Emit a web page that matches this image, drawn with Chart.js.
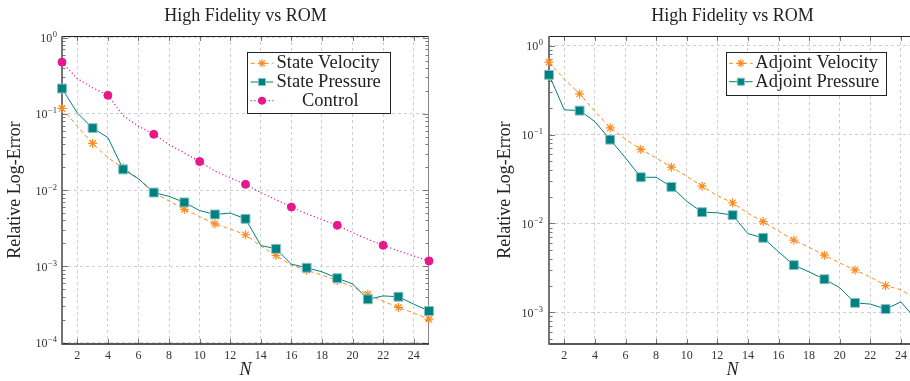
<!DOCTYPE html>
<html>
<head>
<meta charset="utf-8">
<script src="https://cdn.jsdelivr.net/npm/chart.js@4/dist/chart.umd.min.js"></script>
<style>
  html, body { margin: 0; padding: 0; background: #fff; overflow: hidden; }
  #wrap { position: relative; width: 910px; height: 381px; overflow: hidden; }
  canvas { position: absolute; top: 0; }
  #izq { left: 0; }
  #der { left: 480px; }
</style>
</head>
<body>
<div id="wrap">
  <canvas id="izq" width="460" height="381" style="width:460px;height:381px"></canvas>
  <canvas id="der" width="460" height="381" style="width:460px;height:381px"></canvas>
</div>
<script>
const SERIF = "'Liberation Serif', 'Times New Roman', serif";
const NARANJA = '#ff8a1f';
const TEAL = '#008080';
const MAGENTA = '#e8178a';

// eje N
const N = [1, 2, 3, 4, 5, 6, 7, 8, 9, 10, 11, 12, 13, 14, 15, 16, 17, 18, 19, 20, 21, 22, 23, 24, 25];
const xTicks = [2, 4, 6, 8, 10, 12, 14, 16, 18, 20, 22, 24];
const yTickValues = [1e-4, 1e-3, 1e-2, 1e-1, 1];
const yTickExponents = ['\u22124', '\u22123', '\u22122', '\u22121', '0'];

// panel izquierdo: estado y control
const stateVelocity = [0.118, 0.069, 0.041, 0.0265, 0.0196, 0.0142, 0.0093, 0.0072, 0.0056, 0.0045,
  0.0036, 0.0031, 0.0026, 0.00185, 0.00139, 0.00104, 0.00089, 0.00077, 0.00065, 0.00054,
  0.00043, 0.00035, 0.00029, 0.000245, 0.000204];
const statePressure = [0.215, 0.103, 0.065, 0.049, 0.0187, 0.0141, 0.0093, 0.0083, 0.0069, 0.0054,
  0.0048, 0.0050, 0.0042, 0.00188, 0.0017, 0.00107, 0.00096, 0.00085, 0.0007, 0.00059,
  0.00037, 0.00041, 0.00040, 0.00032, 0.00026];
const control = [0.477, 0.29, 0.22, 0.175, 0.095, 0.069, 0.054, 0.0396, 0.0308, 0.0237,
  0.0178, 0.0145, 0.0119, 0.0093, 0.0075, 0.0060, 0.0049, 0.0041, 0.00346, 0.00277,
  0.00227, 0.00189, 0.0016, 0.00137, 0.00118];

// panel derecho: adjunto
const adjointVelocity = [0.652, 0.42, 0.287, 0.182, 0.119, 0.089, 0.068, 0.0546, 0.043, 0.034,
  0.0263, 0.0205, 0.0171, 0.013, 0.0105, 0.0082, 0.0065, 0.0054, 0.0044, 0.0036,
  0.0030, 0.0025, 0.0020, 0.0018, 0.0014];
const adjointPressure = [0.47, 0.19, 0.186, 0.14, 0.0877, 0.0546, 0.0331, 0.0331, 0.0258, 0.0178,
  0.0134, 0.0132, 0.0124, 0.0077, 0.0069, 0.0048, 0.0034, 0.00285, 0.00236, 0.0019,
  0.00128, 0.00124, 0.00109, 0.00131, 0.00083];

const puntos = (vals) => N.map((n, i) => ({ x: n, y: vals[i] }));

function serieVelocidad(label, vals) {
  return {
    label, data: puntos(vals), order: 3,
    borderColor: NARANJA, borderWidth: 1, borderDash: [4, 3],
    pointStyle: 'star', pointBorderColor: NARANJA, pointBackgroundColor: NARANJA, pointBorderWidth: 1.2,
    pointRadius: (c) => c.dataIndex % 2 === 0 ? 4.5 : 0, legendRadius: 4,
    clip: false,
  };
}

function seriePresion(label, vals) {
  return {
    label, data: puntos(vals), order: 2,
    borderColor: TEAL, borderWidth: 1,
    pointStyle: 'rect', pointBackgroundColor: TEAL, pointBorderColor: '#86c2c2', pointBorderWidth: 1,
    pointRadius: (c) => c.dataIndex % 2 === 0 ? 6.3 : 0, legendRadius: 5,
    clip: false,
  };
}

function serieControl(label, vals) {
  return {
    label, data: puntos(vals), order: 1,
    borderColor: MAGENTA, borderWidth: 1.2, borderDash: [1.2, 2.4],
    pointStyle: 'circle', pointBackgroundColor: MAGENTA, pointBorderColor: MAGENTA, pointBorderWidth: 1,
    pointRadius: (c) => c.dataIndex % 3 === 0 ? 4 : 0, legendRadius: 3.6, centrada: true,
    clip: false,
  };
}

// marco, marcas hacia dentro y etiquetas 10^k, estilo pgfplots
const marcoEjes = {
  id: 'marcoEjes',
  beforeDatasetsDraw(chart, args, o) {
    const { ctx, chartArea: a, scales: { x, y } } = chart;
    ctx.save();
    ctx.setLineDash([]);
    ctx.strokeStyle = '#555';
    ctx.lineWidth = 0.8;
    const k0 = Math.floor(Math.log10(y.min));
    const k1 = Math.ceil(Math.log10(y.max));
    for (let k = k0; k <= k1; k++) {
      for (let m = 1; m <= 9; m++) {
        const v = m * Math.pow(10, k);
        if (v < y.min || v > y.max) continue;
        const py = Math.round(y.getPixelForValue(v)) + 0.5;
        const len = m === 1 ? 6 : 3.5;
        ctx.beginPath();
        ctx.moveTo(a.left, py); ctx.lineTo(a.left + len, py);
        ctx.moveTo(a.right, py); ctx.lineTo(a.right - len, py);
        ctx.stroke();
      }
    }
    x.ticks.forEach(t => {
      const px = Math.round(x.getPixelForValue(t.value)) + 0.5;
      ctx.beginPath();
      ctx.moveTo(px, a.bottom); ctx.lineTo(px, a.bottom - 5);
      ctx.moveTo(px, a.top); ctx.lineTo(px, a.top + 5);
      ctx.stroke();
    });
    ctx.lineWidth = 1;
    ctx.strokeStyle = '#222';
    ctx.beginPath(); ctx.moveTo(a.left, a.top + 0.5); ctx.lineTo(a.right, a.top + 0.5); ctx.stroke();
    ctx.strokeStyle = '#888';
    ctx.beginPath(); ctx.moveTo(a.right - 0.5, a.top); ctx.lineTo(a.right - 0.5, a.bottom); ctx.stroke();
    ctx.lineWidth = 1.6;
    ctx.strokeStyle = '#222';
    ctx.beginPath(); ctx.moveTo(a.left, a.bottom); ctx.lineTo(a.right, a.bottom); ctx.stroke();
    ctx.lineWidth = 1.8;
    ctx.strokeStyle = '#666';
    ctx.beginPath(); ctx.moveTo(a.left, a.top); ctx.lineTo(a.left, a.bottom + 0.8); ctx.stroke();

    // etiquetas del eje y: 10 con exponente
    ctx.fillStyle = '#333';
    ctx.textBaseline = 'alphabetic';
    ctx.textAlign = 'right';
    const xr = a.left - o.pad;
    y.ticks.forEach(t => {
      const py = y.getPixelForValue(t.value);
      const exp = yTickExponents[yTickValues.indexOf(t.value)];
      ctx.font = `8.5px ${SERIF}`;
      const we = ctx.measureText(exp).width;
      ctx.fillText(exp, xr, py - 0.5);
      ctx.font = `12px ${SERIF}`;
      ctx.fillText('10', xr - we - 0.5, py + 4.5);
    });
    ctx.restore();
  }
};

// leyenda en caja dentro del area
const leyendaCaja = {
  id: 'leyendaCaja',
  afterDatasetsDraw(chart, args, o) {
    const { ctx } = chart;
    ctx.save();
    ctx.fillStyle = '#fff';
    ctx.fillRect(o.x, o.y, o.w, o.h);
    ctx.setLineDash([]);
    ctx.strokeStyle = '#222';
    ctx.lineWidth = 1;
    ctx.strokeRect(o.x + 0.5, o.y + 0.5, o.w, o.h);
    chart.data.datasets.forEach((ds, i) => {
      const cy = o.y + o.first + i * o.step;
      ctx.strokeStyle = ds.borderColor;
      ctx.lineWidth = ds.borderWidth;
      ctx.setLineDash(ds.borderDash || []);
      ctx.beginPath(); ctx.moveTo(o.x0, cy); ctx.lineTo(o.x1, cy); ctx.stroke();
      ctx.setLineDash([]);
      ctx.fillStyle = ds.pointBackgroundColor;
      ctx.strokeStyle = ds.pointBorderColor;
      ctx.lineWidth = ds.pointBorderWidth;
      Chart.helpers.drawPoint(ctx, {
        pointStyle: ds.pointStyle, radius: ds.legendRadius, rotation: 0, borderWidth: ds.pointBorderWidth
      }, (o.x0 + o.x1) / 2, cy);
      ctx.fillStyle = '#222';
      ctx.font = `18.5px ${SERIF}`;
      ctx.textBaseline = 'middle';
      if (ds.centrada) {
        ctx.textAlign = 'center';
        ctx.fillText(ds.label, (o.tx + o.x + o.w - 6) / 2, cy);
      } else {
        ctx.textAlign = 'left';
        ctx.fillText(ds.label, o.tx, cy);
      }
    });
    ctx.restore();
  }
};

function ejeX() {
  return {
    type: 'linear', min: 1, max: 25,
    afterBuildTicks: s => { s.ticks = xTicks.map(v => ({ value: v })); },
    afterFit: s => { s.height = 37; },
    ticks: { color: '#333', font: { family: SERIF, size: 12 }, padding: 4.5, maxRotation: 0, autoSkip: false,
      callback: v => String(v) },
    grid: { color: '#cfcfcf', lineWidth: 1, drawTicks: false },
    border: { display: false, dash: [3, 3] },
    title: { display: true, text: 'N', color: '#222', padding: 0,
      font: { family: SERIF, size: 18, style: 'italic' } },
  };
}

function ejeY(min, max, ancho, padTitulo) {
  return {
    type: 'logarithmic', min, max,
    afterBuildTicks: s => { s.ticks = yTickValues.filter(v => v >= min && v <= max).map(v => ({ value: v })); },
    afterFit: s => { s.width = ancho; },
    ticks: { display: false },
    grid: { color: '#cfcfcf', lineWidth: 1, drawTicks: false },
    border: { display: false, dash: [3, 3] },
    title: { display: true, text: 'Relative Log-Error', color: '#222', padding: { top: padTitulo, bottom: 0 },
      font: { family: SERIF, size: 18 } },
  };
}

function crearGrafica(id, datasets, ejes, leyenda, padEtiquetas, padDerecha) {
  return new Chart(document.getElementById(id), {
    type: 'line',
    data: { datasets },
    plugins: [marcoEjes, leyendaCaja],
    options: {
      responsive: false,
      animation: false,
      events: [],
      layout: { padding: { top: 0, left: 0, bottom: 0, right: padDerecha } },
      scales: ejes,
      plugins: {
        legend: { display: false },
        tooltip: { enabled: false },
        title: { display: true, text: 'High Fidelity vs ROM', fullSize: false, color: '#222',
          font: { family: SERIF, size: 18, weight: 'normal' }, padding: { top: 5, bottom: 9.4 } },
        marcoEjes: { pad: padEtiquetas },
        leyendaCaja: leyenda,
      },
    },
  });
}

crearGrafica('izq',
  [serieVelocidad('State Velocity', stateVelocity),
   seriePresion('State Pressure', statePressure),
   serieControl('Control', control)],
  { x: ejeX(), y: ejeY(9.6e-5, 1.05, 62, 4.2) },
  { x: 247, y: 52, w: 143, h: 61, first: 11.3, step: 18.7, x0: 250.7, x1: 273.3, tx: 276.5 },
  5, 31);

crearGrafica('der',
  [serieVelocidad('Adjoint Velocity', adjointVelocity),
   seriePresion('Adjoint Pressure', adjointPressure)],
  { x: ejeX(), y: ejeY(4.41e-4, 1.285, 69, 14.2) },
  { x: 246, y: 52, w: 160, h: 43, first: 11.3, step: 18.4, x0: 249, x1: 272.7, tx: 275.3 },
  6, 23.8);
</script>
</body>
</html>
